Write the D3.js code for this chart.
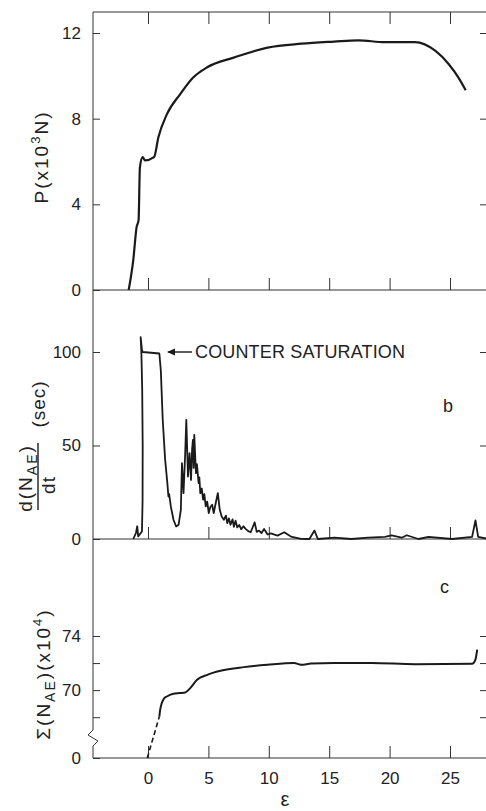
<!DOCTYPE html>
<html>
<head>
<meta charset="utf-8">
<script src="https://cdn.jsdelivr.net/npm/d3@7"></script>
<style>
  body { margin: 0; background: #fff; }
  svg { display: block; }
  .tick text { font-family: "Liberation Sans", Arial, sans-serif; font-size: 17px; fill: #222; }
  .tick line { stroke: #333; stroke-width: 1; }
  .lbl { font-family: "Liberation Sans", Arial, sans-serif; fill: #222; }
</style>
</head>
<body>
<div id="app"></div>
<script>
`use strict`;

// strain ticks shared by the three panels
const epsTicks = [0, 5, 10, 15, 20, 25];
const loadTicks = [0, 4, 8, 12];
const rateTicks = [0, 50, 100];
const sumTicks = [0, 70, 74];
const sumMinor = [68, 72];

// (a) load P (x10^3 N) against strain
const loadPoints = [
  [-1.6, 0], [-1.22, 1.4], [-0.94, 2.95], [-0.78, 3.26], [-0.67, 5.73], [-0.44, 6.2],
  [-0.25, 6.05], [0.5, 6.2], [0.86, 7.13], [1.56, 8.2], [2.67, 9.15], [3.7, 9.9],
  [4.9, 10.4], [7.1, 10.85], [9.9, 11.32], [12.7, 11.5], [15.4, 11.6], [17.4, 11.66],
  [19.6, 11.57], [22.1, 11.57], [23.8, 11.16], [24.9, 10.54], [25.7, 9.92], [26.3, 9.33]
];

// (b) AE count rate, clipped at counter saturation
const ratePoints = [
  [-1.22, 0], [-1.0, 3.2], [-0.89, 6.8], [-0.81, 1.4], [-0.6, 3.2], [-0.5, 4], [-0.45, 20],
  [-0.44, 50], [-0.48, 80], [-0.55, 100], [-0.61, 108], [-0.5, 101], [-0.44, 100],
  [0.94, 99.2], [1.06, 90.3], [1.22, 63.6], [1.42, 42.3], [1.6, 30], [1.69, 22.7], [1.75, 24],
  [1.89, 17.4], [2.11, 10.3], [2.33, 6.7], [2.53, 7.6], [2.72, 15.6], [2.81, 40.5], [2.94, 24.5],
  [3.08, 45.9], [3.17, 63.7], [3.31, 33.4], [3.44, 45.9], [3.56, 31.6], [3.65, 48], [3.72, 53],
  [3.78, 38], [3.83, 55.7], [3.97, 35.2], [4.05, 40], [4.19, 29.9], [4.25, 33], [4.33, 24.5],
  [4.45, 27], [4.56, 21], [4.66, 24], [4.78, 17.4], [4.9, 20], [5.03, 13.9], [5.15, 17],
  [5.31, 18.3], [5.44, 13.9], [5.6, 19], [5.78, 24.5], [5.94, 15.6], [6.1, 12], [6.28, 10.3],
  [6.45, 12.5], [6.56, 8.5], [6.7, 11], [6.83, 7.6], [7.0, 10.5], [7.11, 6.5], [7.25, 9.8],
  [7.39, 6.2], [7.55, 7.5], [7.72, 5.2], [7.9, 6.8], [8.08, 5.4], [8.3, 4.2], [8.5, 3.6],
  [8.83, 8.9], [9.0, 3.8], [9.19, 4.5], [9.4, 3.2], [9.61, 5.4], [9.9, 2.4], [10.17, 3.0],
  [10.72, 1.8], [11.28, 3.6], [11.83, 1.3], [12.67, 0.1], [13.36, 0], [13.78, 4.5], [14.06, 0],
  [15.44, 0.7], [16.83, 0], [18.22, 0.7], [19.61, 1.1], [20.17, 2], [21, 0.7], [21.42, 2],
  [22.39, 0], [23.22, 1.1], [25.17, 0], [26.83, 1.1], [27.11, 10], [27.33, 1.1], [28.2, 0]
];

// (c) cumulative AE counts (x10^4), broken axis below 66.5
const sumDashed = [[-0.06, 0], [0.94, 68.05]];
const sumPoints = [
  [0.94, 68.05], [1.0, 68.5], [1.14, 69.04], [1.3, 69.35], [1.56, 69.53], [2.1, 69.73],
  [2.6, 69.78], [3.08, 69.82], [3.5, 70.15], [4.06, 70.76], [4.9, 71.13], [6.0, 71.43],
  [7.94, 71.7], [9.89, 71.87], [12.1, 72.0], [12.67, 71.88], [13.5, 71.96], [15.44, 72.0],
  [18.5, 72.0], [22.1, 71.92], [26.83, 71.95], [27.1, 72.24], [27.25, 72.99]
];

/** **/

const W = 486, H = 811, L = 93, R = 486;

let svg = d3.select(`#app`).append(`svg`).attr(`width`, W).attr(`height`, H);

let x = d3.scaleLinear().domain([0, 25]).range([148, 450]);
let yP = d3.scaleLinear().domain([0, 12]).range([290, 33]);
let yR = d3.scaleLinear().domain([0, 100]).range([539, 352]);
let yS = d3.scaleLinear().domain([0, 66.5, 74]).range([758, 737.5, 636]);

let ink = `#1a1a1a`;

// frames
let frame = svg.append(`g`).attr(`stroke`, `#333`).attr(`stroke-width`, 1).attr(`fill`, `none`);
frame.append(`line`).attr(`x1`, L).attr(`x2`, R).attr(`y1`, 12).attr(`y2`, 12);
[yP(0), yR(0), yS(0)].forEach(Y => {
  frame.append(`line`).attr(`x1`, L).attr(`x2`, R).attr(`y1`, Y).attr(`y2`, Y);
});
frame.append(`path`).attr(`d`, `M${L},12 V730 L${L - 5},735 L${L + 5},741 L${L},746 V${yS(0)}`);

// top frame ticks (downward) and baseline ticks (upward)
svg.append(`g`).attr(`transform`, `translate(0,12)`)
  .call(d3.axisBottom(x).tickValues(epsTicks).tickSize(12).tickFormat(``))
  .call(g => g.select(`.domain`).remove());

[yP(0), yR(0)].forEach(Y => {
  svg.append(`g`).attr(`transform`, `translate(0,${Y})`)
    .call(d3.axisBottom(x).tickValues(epsTicks).tickSizeInner(-12).tickSizeOuter(0).tickFormat(``))
    .call(g => g.select(`.domain`).remove());
});

svg.append(`g`).attr(`transform`, `translate(0,${yS(0)})`)
  .call(d3.axisBottom(x).tickValues(epsTicks).tickSizeInner(-12).tickSizeOuter(0).tickPadding(14))
  .call(g => g.select(`.domain`).remove());

// left axes
let left = (scale, ticks, fmt) => {
  svg.append(`g`).attr(`transform`, `translate(${L},0)`)
    .call(d3.axisLeft(scale).tickValues(ticks).tickSizeInner(-7).tickSizeOuter(0).tickPadding(12).tickFormat(fmt))
    .call(g => g.select(`.domain`).remove());
};
left(yP, loadTicks, d3.format(`d`));
left(yR, rateTicks, d3.format(`d`));
left(yS, sumTicks, d3.format(`d`));
left(yS, sumMinor, () => ``);

// right ticks
let right = (scale, ticks) => {
  svg.append(`g`).attr(`transform`, `translate(${R},0)`)
    .call(d3.axisRight(scale).tickValues(ticks).tickSizeInner(-6).tickSizeOuter(0).tickFormat(() => ``))
    .call(g => g.select(`.domain`).remove());
};
right(yP, [4, 8, 12]);
right(yR, [50, 100]);
right(yS, [68, 70, 72, 74]);

// curves
svg.append(`path`).datum(loadPoints)
  .attr(`d`, d3.line().x(S => x(S[0])).y(S => yP(S[1])).curve(d3.curveMonotoneX))
  .attr(`fill`, `none`).attr(`stroke`, ink).attr(`stroke-width`, 2.2).attr(`stroke-linejoin`, `round`);

svg.append(`path`).datum(ratePoints)
  .attr(`d`, d3.line().x(S => x(S[0])).y(S => yR(S[1])))
  .attr(`fill`, `none`).attr(`stroke`, ink).attr(`stroke-width`, 1.8).attr(`stroke-linejoin`, `round`);

svg.append(`path`).datum(sumDashed)
  .attr(`d`, d3.line().x(S => x(S[0])).y(S => yS(S[1])))
  .attr(`fill`, `none`).attr(`stroke`, ink).attr(`stroke-width`, 1.6).attr(`stroke-dasharray`, `5,3`);

svg.append(`path`).datum(sumPoints)
  .attr(`d`, d3.line().x(S => x(S[0])).y(S => yS(S[1])).curve(d3.curveMonotoneX))
  .attr(`fill`, `none`).attr(`stroke`, ink).attr(`stroke-width`, 2).attr(`stroke-linejoin`, `round`);

// saturation note
svg.append(`line`).attr(`x1`, 168).attr(`x2`, 192).attr(`y1`, 352).attr(`y2`, 352)
  .attr(`stroke`, ink).attr(`stroke-width`, 1.4);
svg.append(`path`).attr(`d`, `M167,352 L175,348.5 L175,355.5 Z`).attr(`fill`, ink);
svg.append(`text`).attr(`class`, `lbl`).attr(`x`, 195).attr(`y`, 358)
  .attr(`font-size`, `18px`).attr(`textLength`, 210).attr(`lengthAdjust`, `spacing`)
  .text(`COUNTER SATURATION`);

svg.append(`text`).attr(`class`, `lbl`).attr(`x`, 443).attr(`y`, 412).attr(`font-size`, `18px`).text(`b`);
svg.append(`text`).attr(`class`, `lbl`).attr(`x`, 440).attr(`y`, 593).attr(`font-size`, `18px`).text(`c`);

// axis titles
let rot = (X, Y) => `translate(${X},${Y}) rotate(-90)`;

let tP = svg.append(`text`).attr(`class`, `lbl`).attr(`transform`, rot(48, 157))
  .attr(`text-anchor`, `middle`).attr(`font-size`, `19px`).attr(`letter-spacing`, `2px`);
tP.append(`tspan`).text(`P(x10`);
tP.append(`tspan`).attr(`dy`, -8).attr(`font-size`, `13px`).text(`3`);
tP.append(`tspan`).attr(`dy`, 8).text(`N)`);

let tN = svg.append(`text`).attr(`class`, `lbl`).attr(`transform`, rot(32, 478))
  .attr(`text-anchor`, `middle`).attr(`font-size`, `19px`).attr(`letter-spacing`, `2px`);
tN.append(`tspan`).text(`d(N`);
tN.append(`tspan`).attr(`dy`, 5).attr(`font-size`, `14px`).text(`AE`);
tN.append(`tspan`).attr(`dy`, -5).text(`)`);

svg.append(`line`).attr(`x1`, 38).attr(`x2`, 38).attr(`y1`, 443).attr(`y2`, 510)
  .attr(`stroke`, ink).attr(`stroke-width`, 1.4);

svg.append(`text`).attr(`class`, `lbl`).attr(`transform`, rot(55, 485))
  .attr(`text-anchor`, `middle`).attr(`font-size`, `19px`).attr(`letter-spacing`, `1px`).text(`dt`);

svg.append(`text`).attr(`class`, `lbl`).attr(`transform`, rot(45, 404))
  .attr(`text-anchor`, `middle`).attr(`font-size`, `19px`).attr(`letter-spacing`, `1px`).text(`(sec)`);

let tS = svg.append(`text`).attr(`class`, `lbl`).attr(`transform`, rot(50, 674))
  .attr(`text-anchor`, `middle`).attr(`font-size`, `19px`).attr(`letter-spacing`, `2px`);
tS.append(`tspan`).text(`Σ(N`);
tS.append(`tspan`).attr(`dy`, 5).attr(`font-size`, `14px`).text(`AE`);
tS.append(`tspan`).attr(`dy`, -5).text(`)(x10`);
tS.append(`tspan`).attr(`dy`, -8).attr(`font-size`, `13px`).text(`4`);
tS.append(`tspan`).attr(`dy`, 8).text(`)`);

svg.append(`text`).attr(`class`, `lbl`).attr(`x`, 285).attr(`y`, 806)
  .attr(`text-anchor`, `middle`).attr(`font-size`, `20px`).text(`ε`);
</script>
</body>
</html>
